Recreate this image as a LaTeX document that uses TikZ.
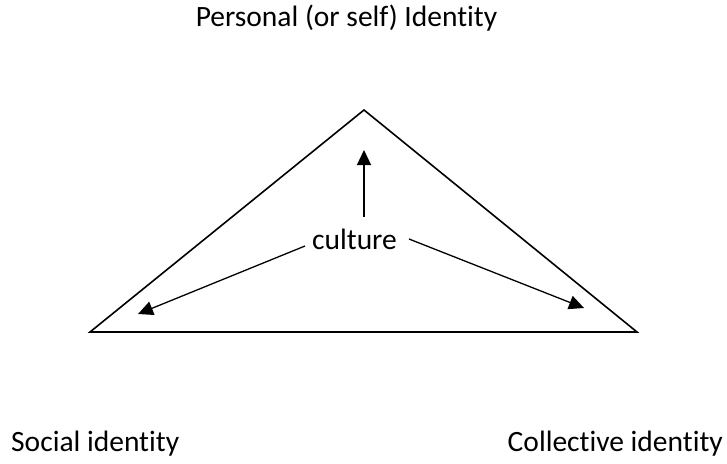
\documentclass[tikz,border=0pt]{standalone}
\usepackage{fontspec}
\setmainfont{Carlito}[RawFeature=-liga]
\usetikzlibrary{arrows.meta}
\tikzset{
  lbl/.style={inner sep=0pt, font=\fontsize{29.5}{35}\selectfont},
  edge/.style={line width=1.6pt, line join=miter},
  arr/.style={line width=1.3pt, -{Triangle[length=15pt,width=14pt]}}
}
\begin{document}
\begin{tikzpicture}[x=1pt, y=-1pt]
\useasboundingbox (0,0) rectangle (727,463);

% Corners of the triangle
\coordinate (apex) at (364,110);
\coordinate (left) at (90,332);
\coordinate (right) at (637,332);
\draw[edge] (apex) -- (left) -- (right) -- cycle;

% Labels
\node[lbl, anchor=base] (personal) at (346.5,26) {Personal (or self) Identity};
\node[lbl, anchor=base west] (social) at (11,451) {Social identity};
\node[lbl, anchor=base east] (collective) at (723,451) {Collective identity};
\node[lbl, anchor=base] (culture) at (354.5,249) {culture};

% Arrow ends
\coordinate (cul-up) at (364,217);
\coordinate (cul-left) at (305,246);
\coordinate (cul-right) at (409,239);
\coordinate (tip-up) at (364,150);
\coordinate (tip-left) at (138,314);
\coordinate (tip-right) at (584,308);

\draw[arr] (cul-up) -- (tip-up);
\draw[arr] (cul-left) -- (tip-left);
\draw[arr] (cul-right) -- (tip-right);
\end{tikzpicture}
\end{document}
